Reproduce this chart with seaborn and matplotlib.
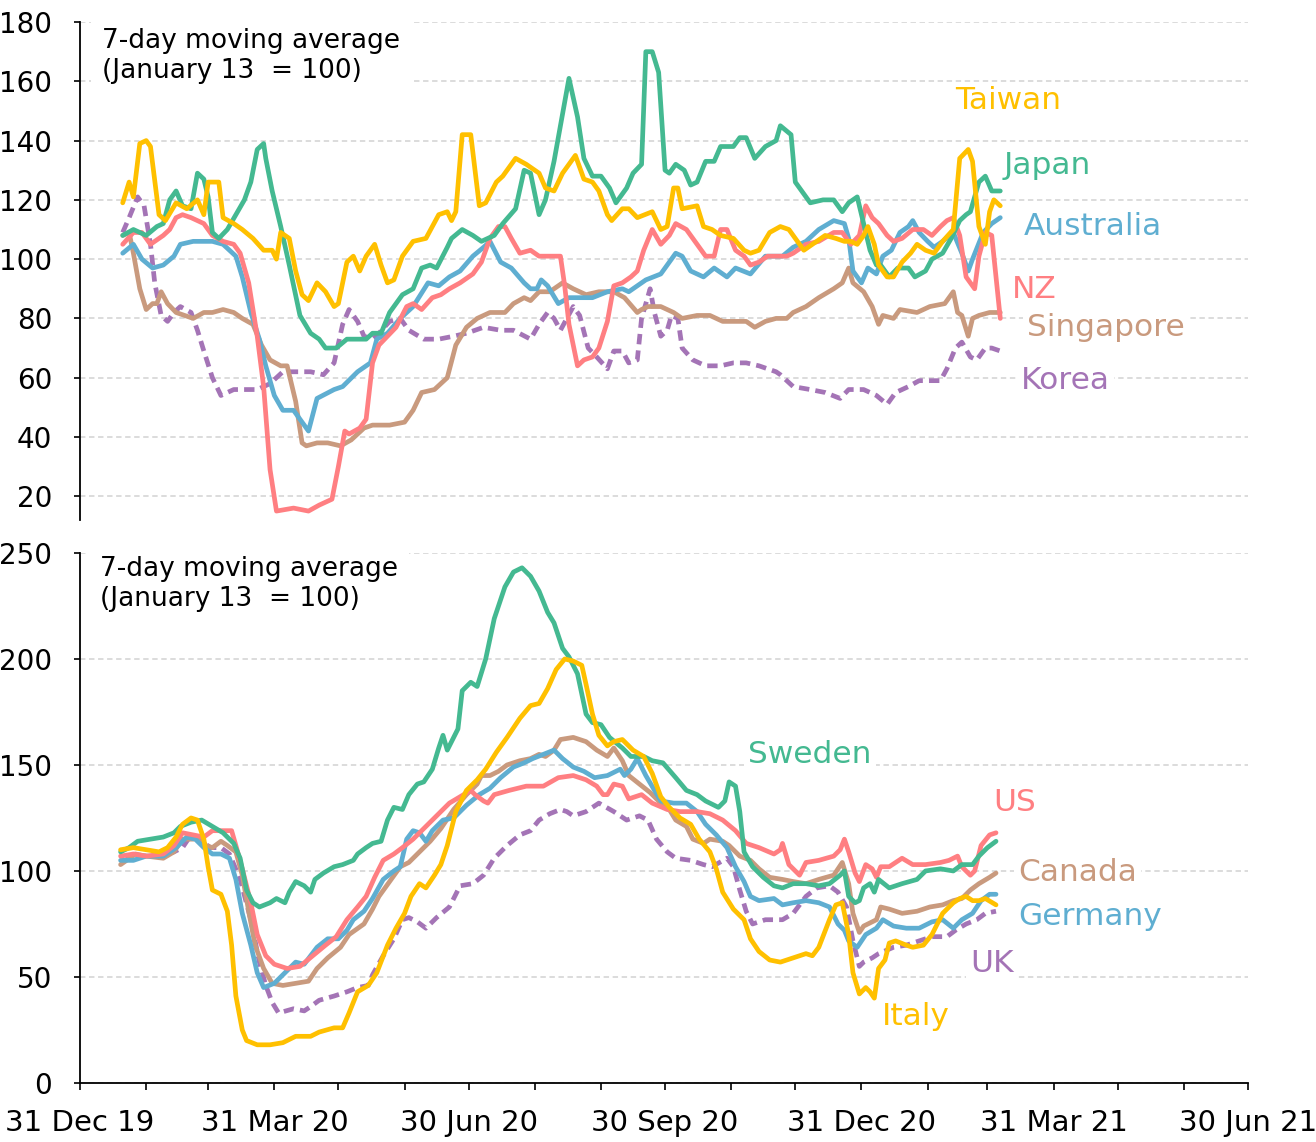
import matplotlib
matplotlib.use('Agg')
import matplotlib.pyplot as plt
import matplotlib.dates as mdates
import pandas as pd
import seaborn as sns

# days counted from 31 Dec 2019, values = 7-day moving average (Jan 13 = 100)
BASE = pd.Timestamp('2019-12-31')

# ---------------- top panel: Asia-Pacific ----------------
taiwan_day = [20, 23, 25, 28, 31, 33, 37, 40, 45, 50, 55, 58, 60, 65, 67, 72, 76, 81, 86, 90, 92, 94, 98,
              101, 104, 107, 111, 115, 119, 121, 125, 128, 131, 134, 138, 141, 144, 147, 151, 156, 162, 165,
              168, 172, 174, 176, 179, 183, 187, 190, 195, 198, 204, 209, 215, 218, 222, 226, 232, 236, 240,
              243, 247, 249, 254, 257, 261, 268, 272, 275, 278, 280, 282, 289, 292, 296, 300, 306, 311, 314,
              318, 323, 328, 332, 335, 339, 343, 349, 354, 358, 361, 364, 367, 369, 372, 374, 378, 381, 385,
              389, 392, 396, 400, 404, 409, 412, 416, 418, 421, 424, 426, 428, 431]
taiwan_val = [119, 126, 121, 139, 140, 138, 115, 113, 119, 117, 120, 115, 126, 126, 114, 112, 110, 107, 103, 103,
              100, 109, 107, 96, 88, 86, 92, 89, 84, 85, 99, 101, 96, 101, 105, 98, 92, 93, 101, 106, 107, 111,
              115, 116, 113, 116, 142, 142, 118, 119, 126, 128, 134, 132, 129, 124, 123, 129, 135, 127, 126,
              123, 115, 113, 117, 117, 114, 116, 110, 111, 124, 124, 117, 118, 111, 110, 108, 107, 103, 102,
              103, 109, 111, 110, 107, 103, 105, 108, 107, 106, 106, 105, 108, 111, 105, 98, 94, 94, 99,
              102, 105, 103, 102, 106, 110, 134, 137, 133, 111, 105, 116, 120, 118]

japan_day = [20, 25, 31, 36, 39, 42, 45, 48, 52, 55, 58, 60, 62, 65, 69, 73, 77, 80, 83, 86, 87, 90, 94, 98,
             103, 108, 112, 115, 120, 125, 130, 134, 137, 141, 145, 151, 156, 160, 164, 167, 172, 174, 179,
             184, 188, 194, 198, 204, 208, 211, 215, 218, 222, 229, 233, 236, 240, 244, 248, 251, 256, 259,
             263, 265, 268, 271, 274, 276, 279, 283, 286, 289, 293, 297, 300, 306, 309, 312, 316, 321, 326,
             328, 333, 335, 342, 348, 353, 357, 360, 364, 367, 370, 373, 375, 379, 383, 388, 391, 396, 399,
             404, 408, 412, 415, 417, 421, 424, 427, 431]
japan_val = [108, 110, 108, 111, 112, 120, 123, 118, 117, 129, 127, 121, 109, 107, 110, 115, 120, 126, 137, 139,
             134, 123, 111, 98, 81, 75, 73, 70, 70, 73, 73, 73, 75, 75, 82, 88, 90, 97, 98, 97, 104, 107, 110,
             108, 106, 108, 112, 117, 130, 129, 115, 120, 133, 161, 148, 134, 128, 128, 124, 119, 124, 129,
             132, 170, 170, 163, 130, 129, 132, 130, 125, 126, 133, 133, 138, 138, 141, 141, 134, 138, 140,
             145, 142, 126, 119, 120, 120, 116, 119, 121, 112, 103, 98, 98, 94, 97, 97, 94, 96, 100,
             102, 107, 113, 115, 116, 126, 128, 123, 123]

australia_day = [20, 25, 29, 34, 39, 44, 47, 53, 62, 67, 73, 76, 80, 84, 87, 91, 95, 100, 104, 107, 111, 119,
                 123, 130, 136, 139, 144, 150, 156, 163, 168, 173, 178, 184, 189, 192, 197, 202, 208, 211, 214,
                 216, 219, 224, 229, 234, 240, 247, 254, 257, 261, 265, 272, 275, 279, 282, 286, 292, 297, 303,
                 307, 314, 321, 329, 334, 340, 346, 353, 358, 360, 362, 366, 369, 373, 376, 380, 384, 388, 390,
                 393, 397, 400, 404, 409, 413, 416, 418, 423, 427, 431]
australia_val = [102, 105, 100, 97, 98, 101, 105, 106, 106, 105, 101, 94, 82, 73, 64, 54, 49, 49, 45, 42, 53, 56,
                 57, 62, 65, 73, 75, 80, 84, 92, 91, 94, 96, 101, 104, 106, 99, 97, 92, 90, 90,
                 93, 91, 85, 87, 87, 87, 89, 90, 89, 91, 93, 95, 98, 102, 101, 96, 94, 97, 94,
                 97, 95, 101, 101, 104, 106, 110, 113, 112, 107, 96, 92, 97, 95, 101, 103, 109, 111, 113,
                 109, 106, 104, 106, 109, 102, 96, 100, 109, 112, 114]

nz_day = [20, 25, 29, 33, 35, 39, 42, 45, 48, 52, 58, 62, 67, 72, 75, 79, 83, 86, 89, 92, 100, 107, 112, 118,
          121, 124, 126, 131, 134, 137, 140, 144, 148, 153, 156, 160, 165, 169, 173, 178, 184, 188, 192, 196,
          199, 202, 206, 211, 215, 219, 225, 227, 229, 233, 236, 240, 243, 247, 250, 254, 258, 261, 264, 268,
          272, 276, 279, 284, 289, 293, 297, 300, 303, 307, 311, 314, 318, 322, 331, 334, 340, 346, 353, 357,
          361, 365, 368, 371, 374, 378, 381, 385, 390, 395, 399, 403, 406, 409, 412, 415, 419, 421, 424, 427,
          431]
nz_val = [105, 109, 109, 105, 106, 108, 110, 114, 115, 114, 112, 108, 106, 105, 102, 92, 74, 57, 29, 15, 16, 15,
          17, 19, 30, 42, 41, 43, 46, 65, 71, 74, 77, 84, 85, 83, 87, 88, 90, 92, 95, 99, 107, 111,
          111, 107, 102, 103, 101, 101, 101, 91, 78, 64, 66, 67, 70, 79, 91, 92, 94, 96, 103, 110,
          105, 108, 112, 110, 105, 101, 101, 110, 110, 103, 101, 98, 99, 101, 101, 102, 105, 106, 109, 109,
          105, 108, 118, 114, 112, 108, 106, 107, 110, 110, 108, 111, 113, 114, 108, 94, 90, 101, 109, 108,
          80]

singapore_day = [20, 23, 25, 28, 31, 34, 36, 38, 41, 45, 53, 58, 62, 67, 72, 76, 81, 85, 89, 94, 97, 101, 104,
                 106, 111, 116, 122, 127, 133, 137, 145, 152, 156, 160, 166, 172, 176, 181, 186, 192, 199, 203,
                 208, 211, 215, 220, 226, 231, 237, 243, 250, 255, 261, 263, 266, 272, 278, 282, 289, 295, 301,
                 306, 312, 316, 321, 326, 331, 334, 340, 346, 353, 357, 360, 362, 367, 371, 374, 376, 381, 384,
                 392, 398, 405, 409, 411, 413, 416, 418, 421, 426, 431]
singapore_val = [108, 109, 102, 90, 83, 85, 85, 89, 85, 82, 80, 82, 82, 83, 82, 80, 78, 71, 66, 64, 64, 52, 38,
                 37, 38, 38, 37, 39, 43, 44, 44, 45, 49, 55, 56, 60, 71, 77, 80, 82, 82, 85,
                 87, 86, 89, 89, 92, 90, 88, 89, 89, 87, 82, 83, 84, 84, 82, 80, 81, 81, 79,
                 79, 79, 77, 79, 80, 80, 82, 84, 87, 90, 92, 97, 92, 89, 84, 78, 81, 80, 83,
                 82, 84, 85, 89, 82, 81, 74, 80, 81, 82, 82]

korea_day = [20, 23, 27, 30, 33, 35, 38, 41, 44, 47, 52, 55, 58, 62, 66, 72, 77, 83, 89, 95, 101, 108, 114, 119,
             123, 126, 130, 133, 137, 140, 145, 150, 154, 161, 168, 175, 181, 189, 197, 203, 211, 215, 219, 222,
             225, 228, 231, 234, 238, 242, 247, 250, 254, 257, 261, 263, 267, 269, 272, 275, 277, 280, 282, 287,
             293, 300, 306, 312, 318, 326, 328, 334, 342, 349, 356, 360, 367, 373, 378, 382, 388, 393, 398, 403,
             406, 410, 413, 417, 420, 424, 427, 431]
korea_val = [109, 114, 121, 118, 105, 92, 81, 79, 82, 84, 82, 76, 69, 60, 54, 56, 56, 56, 58, 62, 62, 62, 61, 65,
             78, 83, 79, 74, 73, 75, 79, 80, 76, 73, 73, 74, 75, 77, 76, 76, 73, 78, 82, 80,
             76, 80, 84, 81, 70, 67, 63, 69, 69, 65, 66, 80, 90, 82, 74, 76, 81, 80, 70, 66,
             64, 64, 65, 65, 64, 62, 61, 57, 56, 55, 53, 56, 56, 54, 51, 55, 57, 59, 59, 59,
             63, 70, 72, 67, 66, 70, 70, 69]

# ---------------- bottom panel: Europe / North America ----------------
sweden_day = [19, 23, 27, 33, 39, 44, 47, 52, 57, 62, 67, 72, 75, 78, 81, 84, 89, 92, 96, 98, 101, 105, 108, 110,
              114, 119, 123, 128, 130, 134, 137, 141, 144, 147, 151, 154, 158, 161, 165, 168, 170, 172, 177,
              179, 183, 186, 190, 194, 199, 203, 207, 211, 215, 219, 222, 226, 229, 233, 237, 240, 244, 248, 254,
              258, 264, 268, 273, 279, 284, 289, 293, 299, 302, 304, 307, 309, 311, 315, 320, 325, 329, 334, 340,
              346, 351, 356, 358, 360, 363, 365, 367, 370, 372, 374, 379, 385, 392, 396, 403, 409, 413, 418, 421,
              425, 429]
sweden_val = [109, 111, 114, 115, 116, 118, 121, 123, 124, 121, 118, 113, 106, 91, 85, 83, 85, 87, 85, 90, 95, 93,
              90, 96, 99, 102, 103, 105, 108, 111, 113, 114, 124, 130, 129, 136, 141, 142, 148, 158, 164, 157,
              167, 185, 189, 187, 200, 219, 234, 241, 243, 239, 232, 222, 217, 205, 201, 193, 174, 170, 169, 163,
              158, 154, 154, 152, 151, 144, 138, 136, 133, 130, 133, 142, 140, 128, 109, 102, 97, 93, 92, 94, 94,
              93, 94, 98, 100, 88, 85, 86, 92, 94, 90, 96, 92, 94, 96, 100, 101, 100, 103, 103, 107, 111, 114]

us_day = [19, 25, 31, 39, 44, 48, 53, 58, 62, 67, 71, 73, 76, 80, 83, 87, 91, 97, 103, 109, 115, 120, 125, 130,
          134, 138, 142, 147, 151, 156, 162, 168, 173, 178, 183, 185, 189, 191, 194, 201, 209, 217, 224, 231, 237,
          242, 245, 247, 250, 254, 257, 263, 268, 275, 281, 289, 295, 301, 307, 312, 318, 325, 328, 329, 332,
          337, 340, 346, 353, 356, 358, 360, 363, 365, 368, 371, 373, 375, 379, 385, 390, 396, 403, 407, 411,
          413, 417, 419, 422, 426, 429]
us_val = [107, 108, 107, 108, 112, 118, 117, 116, 119, 119, 119, 112, 101, 85, 70, 60, 56, 54, 55, 60, 65, 69, 77,
          83, 88, 97, 105, 108, 111, 115, 121, 127, 132, 135, 138, 136, 133, 132, 136, 138, 140, 140, 144, 145,
          143, 140, 136, 136, 141, 140, 134, 136, 132, 129, 128, 128, 127, 124, 119, 113, 111, 108, 110, 113,
          103, 98, 104, 105, 107, 110, 115, 109, 99, 95, 103, 101, 97, 102, 102, 106, 103, 103, 104, 105, 107,
          102, 98, 100, 112, 117, 118]

italy_day = [19, 25, 31, 37, 41, 45, 48, 52, 55, 58, 60, 62, 66, 69, 71, 73, 76, 78, 83, 89, 95, 101, 108, 112,
             119, 123, 126, 130, 135, 139, 144, 148, 152, 155, 159, 162, 166, 169, 172, 176, 181, 186, 190, 195,
             200, 206, 211, 215, 219, 223, 227, 231, 235, 237, 240, 243, 247, 250, 254, 259, 264, 268, 272, 276,
             281, 286, 290, 295, 298, 301, 306, 311, 314, 318, 323, 328, 334, 340, 343, 346, 351, 354, 357, 360,
             362, 365, 368, 370, 372, 374, 377, 379, 382, 387, 390, 395, 399, 404, 409, 412, 415, 418, 421, 424,
             429]
italy_val = [110, 111, 110, 109, 111, 116, 122, 125, 124, 115, 102, 91, 89, 81, 65, 41, 25, 20, 18, 18, 19, 22, 22,
             24, 26, 26, 33, 43, 46, 52, 65, 73, 80, 88, 94, 92, 98, 103, 112, 128, 138, 143, 148, 156,
             163, 172, 178, 179, 186, 195, 200, 199, 197, 188, 174, 164, 159, 161, 162, 157, 154, 146, 135, 130,
             125, 122, 115, 109, 101, 90, 82, 77, 68, 62, 58, 57, 59, 61, 60, 64, 77, 84, 85, 70,
             52, 42, 45, 43, 40, 54, 58, 66, 67, 65, 64, 65, 70, 80, 85, 87, 88, 86, 86, 87,
             84]

germany_day = [19, 25, 31, 39, 45, 50, 54, 58, 62, 66, 70, 73, 76, 80, 83, 86, 91, 96, 101, 105, 111, 116, 121,
               125, 128, 133, 137, 142, 147, 150, 153, 156, 159, 162, 165, 170, 175, 181, 187, 192, 197, 203, 208,
               212, 217, 222, 226, 231, 236, 241, 247, 253, 255, 258, 261, 265, 272, 278, 284, 289, 293, 298, 303,
               307, 311, 314, 318, 325, 329, 334, 340, 346, 351, 355, 358, 360, 364, 368, 373, 376, 381, 387, 393,
               399, 404, 409, 413, 418, 422, 426, 429]
germany_val = [105, 105, 107, 107, 111, 116, 115, 111, 108, 108, 106, 96, 80, 65, 52, 45, 47, 52, 57, 56, 64, 68,
               68, 72, 77, 81, 87, 96, 100, 102, 115, 119, 118, 114, 119, 124, 125, 131, 136, 139, 144, 149, 151,
               153, 155, 157, 153, 149, 147, 144, 145, 148, 145, 148, 153, 145, 133, 132, 132, 128, 122, 117, 111,
               102, 95, 88, 86, 87, 84, 85, 86, 85, 83, 75, 72, 67, 64, 70, 73, 77, 74, 73, 73,
               76, 77, 73, 77, 80, 86, 89, 89]

canada_day = [19, 26, 31, 39, 44, 48, 53, 56, 59, 62, 66, 69, 73, 76, 79, 82, 86, 90, 95, 101, 107, 111, 116, 122,
              126, 133, 137, 140, 145, 150, 154, 159, 164, 169, 175, 181, 186, 188, 192, 196, 200, 206, 211, 215,
              218, 222, 225, 231, 237, 242, 247, 250, 254, 257, 262, 267, 272, 276, 279, 284, 287, 292, 295, 301,
              304, 309, 314, 318, 323, 329, 334, 340, 346, 353, 357, 360, 362, 365, 367, 371, 373, 375, 379, 385,
              392, 398, 404, 409, 413, 417, 421, 426, 429]
canada_val = [103, 108, 107, 106, 109, 115, 115, 116, 112, 111, 114, 112, 109, 98, 81, 65, 54, 47, 46, 47, 48, 54,
              59, 64, 70, 75, 82, 88, 95, 102, 104, 109, 114, 120, 129, 136, 141, 145, 145, 147, 150, 152, 153,
              155, 154, 157, 162, 163, 161, 157, 154, 158, 152, 145, 141, 137, 132, 129, 124, 121, 115, 113, 115,
              114, 112, 107, 105, 101, 97, 96, 95, 94, 96, 98, 104, 94, 80, 71, 74, 76, 77, 83, 82, 80,
              81, 83, 84, 86, 87, 91, 94, 97, 99]

uk_day = [19, 25, 31, 37, 44, 48, 52, 56, 61, 66, 70, 75, 80, 84, 87, 90, 93, 100, 105, 108, 112, 119, 125, 130,
          135, 137, 142, 147, 151, 154, 158, 162, 167, 173, 178, 184, 189, 194, 200, 206, 211, 215, 220, 225, 228,
          231, 237, 243, 250, 256, 262, 266, 270, 275, 279, 286, 292, 296, 303, 306, 309, 312, 315, 321, 329,
          334, 340, 345, 351, 355, 359, 362, 365, 367, 371, 374, 381, 387, 393, 399, 406, 410, 415, 420, 424,
          429]
uk_val = [104, 107, 107, 107, 109, 111, 117, 115, 111, 111, 108, 96, 77, 57, 46, 38, 33, 35, 34, 36, 39, 41, 43,
          45, 46, 51, 60, 68, 77, 78, 76, 73, 78, 83, 93, 94, 98, 106, 112, 117, 119, 124, 127, 129, 128,
          126, 128, 132, 128, 124, 126, 124, 115, 109, 106, 105, 103, 102, 106, 102, 91, 81, 75, 77, 77,
          80, 88, 92, 93, 90, 83, 67, 55, 57, 59, 61, 64, 65, 67, 69, 69, 72, 75, 77, 80,
          81]

RED = '#FF7F82'
GREEN = '#44B991'
YELLOW = '#FFC000'
BLUE = '#5FAED1'
TAN = '#C99A7E'
PURPLE = '#A474B6'
GRID = '#D9D9D9'

top_series = [
    ('Korea', korea_day, korea_val, PURPLE, True, (0.844, 0.281)),
    ('Singapore', singapore_day, singapore_val, TAN, False, (0.878, 0.386)),
    ('Australia', australia_day, australia_val, BLUE, False, (0.867, 0.590)),
    ('NZ', nz_day, nz_val, RED, False, (0.817, 0.462)),
    ('Japan', japan_day, japan_val, GREEN, False, (0.828, 0.711)),
    ('Taiwan', taiwan_day, taiwan_val, YELLOW, False, (0.7945, 0.843)),
]
bottom_series = [
    ('UK', uk_day, uk_val, PURPLE, True, (0.781, 0.226)),
    ('Canada', canada_day, canada_val, TAN, False, (0.854, 0.398)),
    ('Germany', germany_day, germany_val, BLUE, False, (0.865, 0.315)),
    ('US', us_day, us_val, RED, False, (0.8005, 0.530)),
    ('Sweden', sweden_day, sweden_val, GREEN, False, (0.625, 0.619)),
    ('Italy', italy_day, italy_val, YELLOW, False, (0.716, 0.126)),
]

sns.set_theme(style='white')
plt.rcParams['font.family'] = ['DejaVu Sans']
plt.rcParams['text.color'] = 'black'

fig = plt.figure(figsize=(13.16, 11.42), dpi=100)
ax_top = fig.add_axes([0.0608, 0.5447, 0.8875, 0.4360])
ax_bot = fig.add_axes([0.0608, 0.0517, 0.8875, 0.4641])

box = dict(facecolor='white', edgecolor='none', pad=3)


def draw(ax, series):
    for name, day, val, color, dashed, pos in series:
        dates = BASE + pd.to_timedelta(day, unit='D')
        ls = (0, (2.2, 1.3)) if dashed else '-'
        sns.lineplot(x=dates, y=val, ax=ax, color=color, linewidth=3.4, linestyle=ls, zorder=2)
        ax.text(pos[0], pos[1], name, transform=ax.transAxes, color=color, fontsize=22.5,
                ha='center', va='center', bbox=box, zorder=4)
    ax.set_xlim(pd.Timestamp('2019-12-31'), pd.Timestamp('2021-06-30'))
    ax.set_axisbelow(True)
    ax.yaxis.grid(True, color=GRID, linestyle=(0, (3, 2)), linewidth=1.3)
    ax.xaxis.grid(False)
    ax.set_xlabel('')
    ax.set_ylabel('')
    for s in ['top', 'right']:
        ax.spines[s].set_visible(False)
    ax.spines['left'].set_color('black')
    ax.spines['left'].set_linewidth(1.3)
    ax.tick_params(axis='y', which='both', left=True, length=4, width=1.2, pad=16,
                   labelsize=20, colors='black')


draw(ax_top, top_series)
draw(ax_bot, bottom_series)

ax_top.set_ylim(12, 180)
ax_top.set_yticks(range(20, 181, 20))
ax_top.spines['bottom'].set_visible(False)
ax_top.tick_params(axis='x', which='both', bottom=False, labelbottom=False)

ax_bot.set_ylim(0, 250)
ax_bot.set_yticks(range(0, 251, 50))
ax_bot.spines['bottom'].set_color('black')
ax_bot.spines['bottom'].set_linewidth(1.3)
ax_bot.xaxis.set_major_locator(mdates.MonthLocator(bymonth=[3, 6, 9, 12], bymonthday=-1))
ax_bot.xaxis.set_minor_locator(mdates.MonthLocator(bymonthday=-1))
ax_bot.xaxis.set_major_formatter(mdates.DateFormatter('%d %b %y'))
ax_bot.tick_params(axis='x', which='both', bottom=True, direction='out', length=5, width=1.2,
                   pad=14, labelsize=21, colors='black')

note = '7-day moving average\n(January 13  = 100)'
ax_top.text(0.0188, 0.988, note, transform=ax_top.transAxes, fontsize=19, ha='left', va='top',
            color='black', linespacing=1.2,
            bbox=dict(facecolor='white', edgecolor='none', pad=8), zorder=4)
ax_bot.text(0.017, 0.994, note, transform=ax_bot.transAxes, fontsize=19, ha='left', va='top',
            color='black', linespacing=1.2,
            bbox=dict(facecolor='white', edgecolor='none', pad=8), zorder=4)

fig.savefig('out.png', dpi=100)
